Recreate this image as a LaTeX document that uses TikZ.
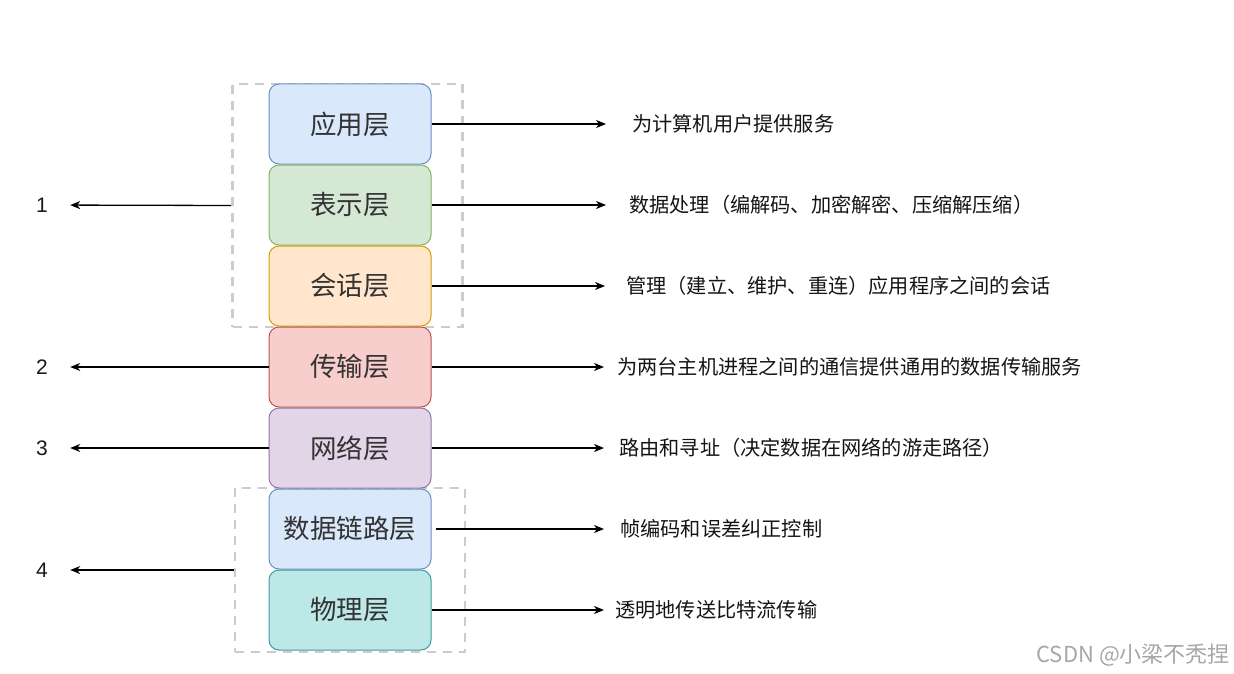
\documentclass[tikz,border=0pt]{standalone}
\usepackage{fontspec}
\newfontfamily\cjk{Noto Sans CJK SC}
\newfontfamily\lat{Liberation Sans}
\usetikzlibrary{arrows.meta}
\definecolor{appF}{HTML}{DAE8FC}\definecolor{appD}{HTML}{6C8EBF}
\definecolor{preF}{HTML}{D5E8D4}\definecolor{preD}{HTML}{82B366}
\definecolor{sesF}{HTML}{FFE6CC}\definecolor{sesD}{HTML}{D79B00}
\definecolor{traF}{HTML}{F8CECC}\definecolor{traD}{HTML}{B85450}
\definecolor{netF}{HTML}{E1D5E7}\definecolor{netD}{HTML}{9673A6}
\definecolor{phyF}{HTML}{BDE8E8}\definecolor{phyD}{HTML}{3E9A9E}
\tikzset{
	layer/.style={draw,rounded corners=10pt,line width=1pt,minimum width=162pt,minimum height=80pt,inner sep=0pt,font=\cjk\fontsize{26.5}{32}\selectfont,text=black!80},
	group/.style={draw=black!20,dash pattern=on 9pt off 7pt,line width=2.8pt,minimum width=230pt},
	desc/.style={anchor=west,inner sep=0pt,font=\cjk\fontsize{20.2}{24}\selectfont,text=black!92},
	num/.style={minimum width=56pt,inner sep=0pt,font=\lat\fontsize{21}{25}\selectfont,text=black!90},
	arr/.style={-{Stealth[length=10pt,width=8pt,inset=3pt]},line width=1.3pt}
}
\begin{document}
\begin{tikzpicture}[x=1pt,y=-1pt]
			\useasboundingbox (0,0) rectangle (1234,674);
			\draw (347.5,205.5) node (g1)[group,minimum height=243pt]{};
			\draw (350,570) node (g2)[group,minimum height=164pt]{};

			\draw (350,124) node (l1)[layer,fill=appF,draw=appD]{应用层};
			\draw (350,205) node (l2)[layer,fill=preF,draw=preD]{表示层};
			\draw (350,286) node (l3)[layer,fill=sesF,draw=sesD]{会话层};
			\draw (350,367) node (l4)[layer,fill=traF,draw=traD]{传输层};
			\draw (350,448) node (l5)[layer,fill=netF,draw=netD]{网络层};
			\draw (350,529) node (l6)[layer,fill=appF,draw=appD]{数据链路层};
			\draw (350,610) node (l7)[layer,fill=phyF,draw=phyD]{物理层};

			\draw (42,205) node (n1)[num]{1};
			\draw (42,367) node (n2)[num]{2};
			\draw (42,448) node (n3)[num]{3};
			\draw (42,570) node (n4)[num]{4};
			\draw[arr] (g1.west)--(n1);
			\draw[arr] (l4.west)--(n2);
			\draw[arr] (l5.west)--(n3);
			\draw[arr] (g2.west)--(n4);

			\coordinate (r1) at (606,124);
			\coordinate (r2) at (606,205);
			\coordinate (r3) at (605,286);
			\coordinate (r4) at (604,367);
			\coordinate (r5) at (604,448);
			\coordinate (r6) at (604,529);
			\coordinate (r7) at (604,610);
			\draw[arr] (l1.east)--(r1);
			\draw[arr] (l2.east)--(r2);
			\draw[arr] (l3.east)--(r3);
			\draw[arr] (l4.east)--(r4);
			\draw[arr] (l5.east)--(r5);
			\draw[arr] ([xshift=4pt]l6.east)--(r6);
			\draw[arr] (l7.east)--(r7);

			\draw (632,124) node (d1)[desc]{为计算机用户提供服务};
			\draw (629,205) node (d2)[desc]{数据处理（编解码、加密解密、压缩解压缩）};
			\draw (626,286) node (d3)[desc]{管理（建立、维护、重连）应用程序之间的会话};
			\draw (617,367) node (d4)[desc]{为两台主机进程之间的通信提供通用的数据传输服务};
			\draw (619,448) node (d5)[desc]{路由和寻址（决定数据在网络的游走路径）};
			\draw (620,529) node (d6)[desc]{帧编码和误差纠正控制};
			\draw (615,610) node (d7)[desc]{透明地传送比特流传输};

			\draw (1230,655) node (mark)[anchor=east,inner sep=0pt,text=black!35,font=\cjk\fontsize{22}{26}\selectfont]{CSDN @小梁不秃捏};
		\end{tikzpicture}
\end{document}
